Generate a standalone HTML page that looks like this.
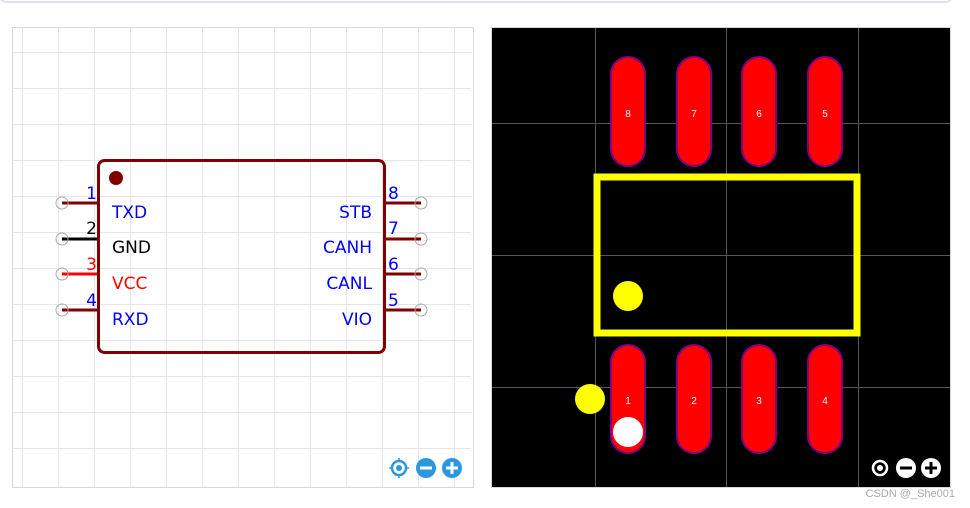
<!DOCTYPE html>
<html><head><style>
html,body{margin:0;padding:0;background:#fff;width:970px;height:508px;overflow:hidden}
svg{display:block}
</style></head><body>
<svg width="970" height="508" viewBox="0 0 970 508" xmlns="http://www.w3.org/2000/svg" font-family="Liberation Sans, sans-serif">
<rect x="0" y="-10" width="952" height="12" rx="6" fill="#fff" stroke="#dde3ee" stroke-width="2"/>
<!-- left panel -->
<rect x="12.5" y="27.5" width="461" height="460" fill="#fff" stroke="#d8d8d8"/>
<g stroke="#e6e6e6" stroke-width="1">
<line x1="22.5" y1="28" x2="22.5" y2="487"/><line x1="58.5" y1="28" x2="58.5" y2="487"/><line x1="94.5" y1="28" x2="94.5" y2="487"/><line x1="130.5" y1="28" x2="130.5" y2="487"/><line x1="166.5" y1="28" x2="166.5" y2="487"/><line x1="202.5" y1="28" x2="202.5" y2="487"/><line x1="238.5" y1="28" x2="238.5" y2="487"/><line x1="274.5" y1="28" x2="274.5" y2="487"/><line x1="310.5" y1="28" x2="310.5" y2="487"/><line x1="346.5" y1="28" x2="346.5" y2="487"/><line x1="382.5" y1="28" x2="382.5" y2="487"/><line x1="418.5" y1="28" x2="418.5" y2="487"/><line x1="454.5" y1="28" x2="454.5" y2="487"/>
<line x1="13" y1="52.5" x2="471" y2="52.5"/><line x1="13" y1="88.5" x2="471" y2="88.5"/><line x1="13" y1="124.5" x2="471" y2="124.5"/><line x1="13" y1="160.5" x2="471" y2="160.5"/><line x1="13" y1="196.5" x2="471" y2="196.5"/><line x1="13" y1="232.5" x2="471" y2="232.5"/><line x1="13" y1="268.5" x2="471" y2="268.5"/><line x1="13" y1="304.5" x2="471" y2="304.5"/><line x1="13" y1="340.5" x2="471" y2="340.5"/><line x1="13" y1="376.5" x2="471" y2="376.5"/><line x1="13" y1="412.5" x2="471" y2="412.5"/><line x1="13" y1="448.5" x2="471" y2="448.5"/>
</g>
<g stroke-width="3">
<line x1="62" y1="203" x2="98" y2="203" stroke="#800000"/>
<line x1="62" y1="239" x2="98" y2="239" stroke="#000"/>
<line x1="62" y1="274" x2="98" y2="274" stroke="#f00"/>
<line x1="62" y1="310" x2="98" y2="310" stroke="#800000"/>
<line x1="385" y1="203" x2="421" y2="203" stroke="#800000"/>
<line x1="385" y1="239" x2="421" y2="239" stroke="#800000"/>
<line x1="385" y1="274" x2="421" y2="274" stroke="#800000"/>
<line x1="385" y1="310" x2="421" y2="310" stroke="#800000"/>
</g>
<g fill="none" stroke="#aaa" stroke-width="1">
<circle cx="62" cy="203" r="6"/><circle cx="62" cy="239" r="6"/><circle cx="62" cy="274" r="6"/><circle cx="62" cy="310" r="6"/>
<circle cx="421" cy="203" r="6"/><circle cx="421" cy="239" r="6"/><circle cx="421" cy="274" r="6"/><circle cx="421" cy="310" r="6"/>
</g>
<rect x="98.5" y="160.5" width="286" height="192" rx="6" fill="none" stroke="#800000" stroke-width="3"/>
<circle cx="116" cy="178" r="7" fill="#800000"/>
<g font-size="17" font-family="DejaVu Sans, sans-serif">
<text x="112" y="218" fill="#00f">TXD</text>
<text x="112" y="253" fill="#000">GND</text>
<text x="112" y="289" fill="#f00">VCC</text>
<text x="112" y="325" fill="#00f">RXD</text>
<text x="372" y="218" fill="#00f" text-anchor="end">STB</text>
<text x="372" y="253" fill="#00f" text-anchor="end">CANH</text>
<text x="372" y="289" fill="#00f" text-anchor="end">CANL</text>
<text x="372" y="325" fill="#00f" text-anchor="end">VIO</text>
<text x="97" y="199" fill="#00f" text-anchor="end">1</text>
<text x="97" y="234" fill="#000" text-anchor="end">2</text>
<text x="97" y="270" fill="#f00" text-anchor="end">3</text>
<text x="97" y="306" fill="#00f" text-anchor="end">4</text>
<text x="388" y="199" fill="#00f">8</text>
<text x="388" y="234" fill="#00f">7</text>
<text x="388" y="270" fill="#00f">6</text>
<text x="388" y="306" fill="#00f">5</text>
</g>
<g fill="#2a97e0">
<circle cx="399" cy="468" r="7" fill="none" stroke="#2a97e0" stroke-width="2.5"/><circle cx="399" cy="468" r="3"/>
<line x1="399" y1="458" x2="399" y2="478" stroke="#2a97e0" stroke-width="1.5" stroke-dasharray="3 14"/>
<line x1="389" y1="468" x2="409" y2="468" stroke="#2a97e0" stroke-width="1.5" stroke-dasharray="3 14"/>
<circle cx="426" cy="468" r="10"/><rect x="420" y="466.5" width="12" height="3" fill="#fff"/>
<circle cx="452" cy="468" r="10"/><rect x="446" y="466.5" width="12" height="3" fill="#fff"/><rect x="450.5" y="462" width="3" height="12" fill="#fff"/>
</g>
<!-- right panel -->
<rect x="491.5" y="27.5" width="459" height="460" fill="#000" stroke="#d8d8d8"/>
<g stroke="#555" stroke-width="1">
<line x1="595.5" y1="28" x2="595.5" y2="487"/><line x1="726.5" y1="28" x2="726.5" y2="487"/><line x1="858.5" y1="28" x2="858.5" y2="487"/>
<line x1="492" y1="123.5" x2="950" y2="123.5"/><line x1="492" y1="255.5" x2="950" y2="255.5"/><line x1="492" y1="387.5" x2="950" y2="387.5"/>
</g>
<g fill="#f00" stroke="#800080" stroke-width="2">
<rect x="611" y="57" width="34" height="109" rx="17"/><rect x="677" y="57" width="34" height="109" rx="17"/><rect x="742" y="57" width="34" height="109" rx="17"/><rect x="808" y="57" width="34" height="109" rx="17"/>
<rect x="611" y="345" width="34" height="108" rx="17"/><rect x="677" y="345" width="34" height="108" rx="17"/><rect x="742" y="345" width="34" height="108" rx="17"/><rect x="808" y="345" width="34" height="108" rx="17"/>
</g>
<g fill="#fff" font-size="10" text-anchor="middle">
<text x="628" y="117">8</text><text x="694" y="117">7</text><text x="759" y="117">6</text><text x="825" y="117">5</text>
<text x="628" y="404">1</text><text x="694" y="404">2</text><text x="759" y="404">3</text><text x="825" y="404">4</text>
</g>
<rect x="597" y="177" width="260" height="156" fill="none" stroke="#ff0" stroke-width="7"/>
<circle cx="628" cy="296" r="15" fill="#ff0"/>
<circle cx="590" cy="399" r="15" fill="#ff0"/>
<circle cx="628" cy="432" r="15" fill="#fff"/>
<g fill="#fff">
<circle cx="880" cy="468" r="7" fill="none" stroke="#fff" stroke-width="2.5"/><circle cx="880" cy="468" r="3"/>
<circle cx="906" cy="468" r="10"/><rect x="900" y="466.5" width="12" height="3" fill="#000"/>
<circle cx="931" cy="468" r="10"/><rect x="925" y="466.5" width="12" height="3" fill="#000"/><rect x="929.5" y="462" width="3" height="12" fill="#000"/>
</g>
<text x="955" y="497" font-size="11" fill="#aaa" text-anchor="end">CSDN @_She001</text>
</svg>
</body></html>
